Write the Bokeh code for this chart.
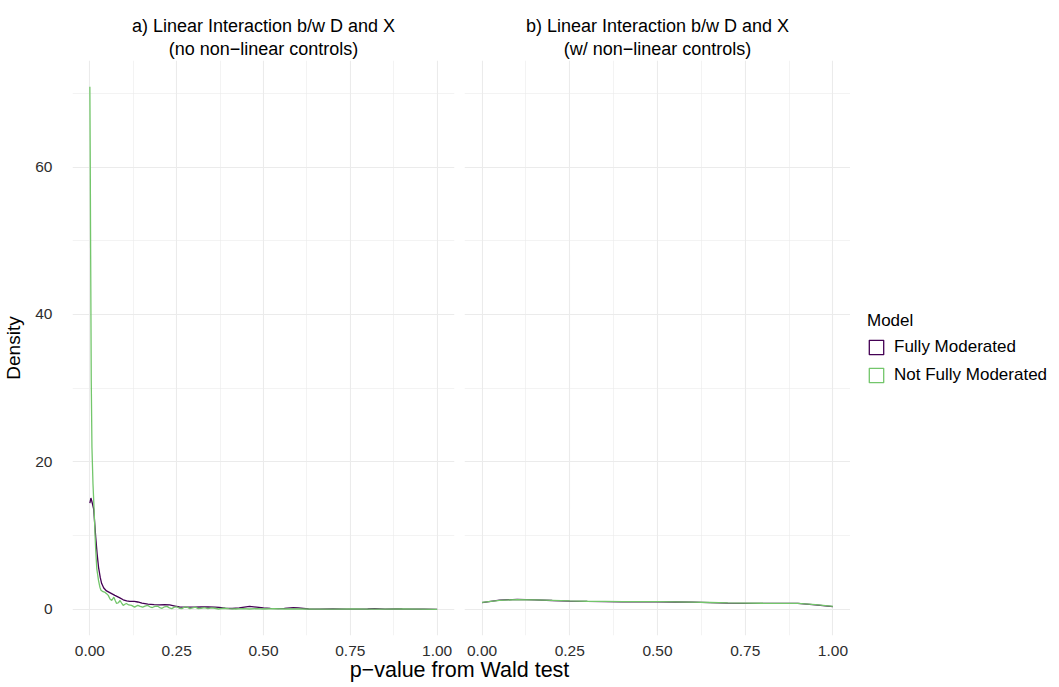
from bokeh.plotting import figure
from bokeh.layouts import row, column
from bokeh.models import (Range1d, FixedTicker, NumeralTickFormatter, Title,
                          Legend, LegendItem, Label)
from bokeh.embed import file_html
from bokeh.resources import INLINE

FONT = "Liberation Sans"

# ---------------- data ----------------
# Panel a) no non-linear controls
pa_full = [0.000, 0.003, 0.006, 0.011, 0.017, 0.021, 0.025, 0.030, 0.034, 0.040,
           0.048, 0.060, 0.072, 0.085, 0.096, 0.106, 0.115, 0.128, 0.138, 0.150,
           0.167, 0.185, 0.200, 0.215, 0.230, 0.245, 0.258, 0.280, 0.300, 0.320,
           0.340, 0.360, 0.372, 0.390, 0.410, 0.430, 0.450, 0.460, 0.480, 0.500,
           0.520, 0.543, 0.560, 0.586, 0.600, 0.630, 0.660, 0.700, 0.740, 0.760,
           0.800, 0.820, 0.850, 0.885, 0.900, 0.930, 0.960, 1.000]
da_full = [14.4, 15.1, 14.6, 13.6, 9.7, 7.5, 5.7, 4.3, 3.5, 2.9,
           2.5, 2.2, 1.9, 1.6, 1.3, 1.15, 1.08, 1.08, 1.0, 0.85,
           0.72, 0.64, 0.62, 0.64, 0.6, 0.45, 0.32, 0.3, 0.31, 0.33,
           0.32, 0.3, 0.28, 0.15, 0.12, 0.2, 0.35, 0.4, 0.3, 0.2,
           0.14, 0.1, 0.14, 0.24, 0.2, 0.05, 0.04, 0.05, 0.04, 0.03,
           0.05, 0.09, 0.04, 0.08, 0.05, 0.04, 0.04, 0.0]

pa_not = [0.000, 0.001, 0.002, 0.004, 0.006, 0.009, 0.012, 0.015, 0.017, 0.020,
          0.025, 0.029, 0.032, 0.038, 0.044, 0.049, 0.053, 0.058, 0.063, 0.069,
          0.073, 0.077, 0.082, 0.087, 0.092, 0.096, 0.101, 0.105, 0.112, 0.120,
          0.125, 0.129, 0.134, 0.138, 0.145, 0.152, 0.159, 0.166, 0.173, 0.180,
          0.187, 0.194, 0.201, 0.208, 0.215, 0.222, 0.229, 0.236, 0.243, 0.250,
          0.258, 0.265, 0.272, 0.280, 0.288, 0.296, 0.304, 0.312, 0.320, 0.330,
          0.340, 0.350, 0.360, 0.370, 0.385, 0.400, 0.420, 0.440, 0.460, 0.480,
          0.500, 0.530, 0.560, 0.600, 0.650, 0.700, 0.760, 0.800, 0.850, 0.900,
          0.950, 1.000]
da_not = [70.9, 62.0, 51.0, 31.0, 22.0, 17.0, 13.8, 10.0, 7.9, 5.5,
          3.9, 3.0, 2.6, 2.4, 2.3, 2.1, 1.9, 1.4, 1.2, 1.65,
          1.2, 0.8, 0.9, 1.2, 0.8, 0.54, 0.7, 0.8, 0.6, 0.54,
          0.4, 0.3, 0.45, 0.54, 0.4, 0.3, 0.45, 0.54, 0.35, 0.25,
          0.4, 0.45, 0.25, 0.15, 0.35, 0.4, 0.2, 0.1, 0.3, 0.35,
          0.15, 0.1, 0.3, 0.3, 0.1, 0.2, 0.3, 0.1, 0.15, 0.25,
          0.1, 0.2, 0.15, 0.05, 0.15, 0.1, 0.05, 0.1, 0.05, 0.1,
          0.05, 0.1, 0.05, 0.05, 0.03, 0.02, 0.05, 0.02, 0.03, 0.05,
          0.02, 0.0]

# Panel b) with non-linear controls
pb = [0.00, 0.05, 0.10, 0.15, 0.20, 0.25, 0.30, 0.35, 0.40, 0.45, 0.50,
      0.55, 0.60, 0.65, 0.70, 0.75, 0.80, 0.85, 0.90, 0.95, 1.00]
db_full = [0.92, 1.25, 1.35, 1.30, 1.20, 1.12, 1.08, 1.05, 1.03, 1.02, 1.02,
           1.00, 0.97, 0.92, 0.85, 0.80, 0.80, 0.82, 0.80, 0.62, 0.38]
db_not = [0.95, 1.22, 1.32, 1.30, 1.22, 1.14, 1.10, 1.08, 1.06, 1.05, 1.04,
          1.02, 0.98, 0.93, 0.88, 0.85, 0.83, 0.82, 0.80, 0.65, 0.40]

x_ticks = [0, 0.25, 0.5, 0.75, 1.0]
x_minor = [0.125, 0.375, 0.625, 0.875]
y_ticks = [0, 20, 40, 60]
y_minor = [10, 30, 50, 70]

series = ["Fully Moderated", "Not Fully Moderated"]
colors = ["#440154", "#73C66B"]
titles_a = ["a) Linear Interaction b/w D and X", "(no non\u2212linear controls)"]
titles_b = ["b) Linear Interaction b/w D and X", "(w/ non\u2212linear controls)"]
x_label = "p\u2212value from Wald test"
y_label = "Density"
legend_title = "Model"

TICK_COLOR = "#2E2E2E"
GRID = "#EBEBEB"
H = 658


def make_panel(titles, width, mbl, mbr, show_y):
    p = figure(width=width, height=H,
               x_range=Range1d(-0.05, 1.05), y_range=Range1d(-3.545, 74.45),
               output_backend="svg", toolbar_location=None,
               min_border_left=mbl, min_border_right=mbr,
               min_border_top=56, min_border_bottom=H - 635,
               title=titles[0])
    p.title.align = "center"
    p.title.text_font = FONT
    p.title.text_font_size = "18px"
    p.title.text_font_style = "normal"
    p.title.text_color = "black"
    p.title.standoff = 0
    p.add_layout(Title(text=titles[1], align="center", text_font=FONT,
                       text_font_size="18px", text_font_style="normal",
                       text_color="black", standoff=3), "above")
    p.outline_line_color = None
    p.background_fill_color = "white"
    p.border_fill_color = "white"

    p.xaxis.ticker = FixedTicker(ticks=x_ticks, minor_ticks=x_minor)
    p.yaxis.ticker = FixedTicker(ticks=y_ticks, minor_ticks=y_minor)
    p.xaxis.formatter = NumeralTickFormatter(format="0.00")
    for ax in (p.xaxis, p.yaxis):
        ax.axis_line_color = None
        ax.major_tick_line_color = None
        ax.minor_tick_line_color = None
        ax.major_label_text_font = FONT
        ax.major_label_text_font_size = "15.5px"
        ax.major_label_text_color = TICK_COLOR
    p.xaxis.major_label_standoff = 4
    p.yaxis.major_label_standoff = 14
    if show_y:
        p.yaxis.axis_label = y_label
        p.yaxis.axis_label_text_font = FONT
        p.yaxis.axis_label_text_font_size = "19px"
        p.yaxis.axis_label_text_font_style = "normal"
        p.yaxis.axis_label_text_color = "black"
        p.yaxis.axis_label_standoff = 8
    else:
        p.yaxis.visible = False

    for g in (p.xgrid, p.ygrid):
        g.grid_line_color = GRID
        g.grid_line_width = 1.1
        g.minor_grid_line_color = GRID
        g.minor_grid_line_width = 0.6
    return p


pa = make_panel(titles_a, 459, 68, 5, True)
pbf = make_panel(titles_b, 391, 5, 0, False)

pa.line(pa_full, da_full, line_color=colors[0], line_width=1.3)
pa.line(pa_not, da_not, line_color=colors[1], line_width=1.3)
pbf.line(pb, db_full, line_color=colors[0], line_width=1.3)
pbf.line(pb, db_not, line_color=colors[1], line_width=1.3)

# legend panel on the right
lg = figure(width=209, height=H, x_range=Range1d(0, 1), y_range=Range1d(0, 1),
            output_backend="svg", toolbar_location=None, title=None,
            x_axis_location=None, y_axis_location=None,
            min_border_left=0, min_border_right=0,
            min_border_top=60, min_border_bottom=H - 635)
lg.outline_line_color = None
lg.grid.visible = False
nan = float("nan")
key_renderers = []
for c in colors:
    r = lg.quad(left=[nan], right=[nan], top=[nan], bottom=[nan], fill_color=None,
                line_color=c, line_width=1.3)
    key_renderers.append(r)

legend = Legend(items=[LegendItem(label=s, renderers=[r]) for s, r in zip(series, key_renderers)],
                title=legend_title, location="left")
legend.title_text_font = FONT
legend.title_text_font_size = "17px"
legend.title_text_font_style = "normal"
legend.title_text_color = "black"
legend.title_standoff = 6
legend.label_text_font = FONT
legend.label_text_font_size = "17px"
legend.label_text_color = "black"
legend.glyph_width = 18
legend.glyph_height = 18
legend.label_height = 18
legend.label_standoff = 9
legend.spacing = 8
legend.padding = 10
legend.margin = 17
legend.border_line_color = None
legend.background_fill_alpha = 0
lg.add_layout(legend, "center")

# shared x-axis title strip
strip = figure(width=1059, height=687 - H, x_range=Range1d(0, 1), y_range=Range1d(0, 1),
               output_backend="svg", toolbar_location=None, title=None,
               x_axis_location=None, y_axis_location=None,
               min_border_left=68, min_border_right=209, min_border_top=0, min_border_bottom=0)
strip.outline_line_color = None
strip.grid.visible = False
strip.add_layout(Label(x=0.5, y=0.6, text=x_label, text_align="center", text_baseline="middle",
                       text_font=FONT, text_font_size="21.5px", text_color="black"))

layout = column(row(pa, pbf, lg), strip)

open("out.html", "w").write(file_html(layout, INLINE))
